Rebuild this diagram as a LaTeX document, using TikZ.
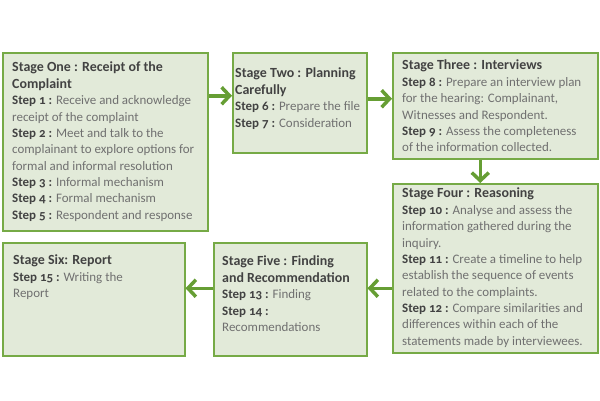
\documentclass[tikz,border=0pt]{standalone}
\usepackage{fontspec}
\setmainfont{Carlito}[Numbers=OldStyle]
\usepackage{tikz}
\usetikzlibrary{arrows.meta}

\definecolor{boxfill}{RGB}{226,234,217}
\definecolor{boxline}{RGB}{118,170,70}
\definecolor{arrowgreen}{RGB}{102,158,52}
\definecolor{headgray}{RGB}{66,66,66}
\definecolor{bodygray}{RGB}{112,112,112}

\tikzset{
  stage/.style={draw=boxline, fill=boxfill, line width=1.5bp, inner sep=0pt, anchor=north west},
  stagetext/.style={anchor=north west, inner sep=0pt, align=left, text=bodygray,
    font=\fontsize{13}{16.4}\selectfont},
  flow/.style={draw=arrowgreen, line width=3.5bp, -{Straight Barb[length=8bp,width=17bp]}}
}
\newcommand{\stagehead}[1]{{\fontsize{14}{16.4}\selectfont\bfseries\color{headgray}#1}}
\newcommand{\stepno}[1]{{\bfseries\color{headgray}Step #1 :} }

\begin{document}
\begin{tikzpicture}[x=1bp,y=-1bp]
  \useasboundingbox[fill=white] (0,0) rectangle (600,400);

  % the six stages
  \node[stage, minimum width=205bp, minimum height=178bp] (one)   at (2,52)    {};
  \node[stage, minimum width=134bp, minimum height=100bp] (two)   at (232,52)  {};
  \node[stage, minimum width=205bp, minimum height=106bp] (three) at (392,52)  {};
  \node[stage, minimum width=205bp, minimum height=169bp] (four)  at (392,183) {};
  \node[stage, minimum width=153bp, minimum height=113bp] (five)  at (213,242) {};
  \node[stage, minimum width=182bp, minimum height=113bp] (six)   at (2,242)   {};

  \node[stagetext] (onetext) at (12,62) {%
    \stagehead{Stage One : Receipt of the}\\
    \stagehead{Complaint}\\
    \stepno{1}Receive and acknowledge\\
    receipt of the complaint\\
    \stepno{2}Meet and talk to the\\
    complainant to explore options for\\
    formal and informal resolution\\
    \stepno{3}Informal mechanism\\
    \stepno{4}Formal mechanism\\
    \stepno{5}Respondent and response};

  \node[stagetext] (twotext) at (235,68) {%
    \stagehead{Stage Two : Planning}\\
    \stagehead{Carefully}\\
    \stepno{6}Prepare the file\\
    \stepno{7}Consideration};

  \node[stagetext] (threetext) at (402,60) {%
    \stagehead{Stage Three : Interviews}\\
    \stepno{8}Prepare an interview plan\\
    for the hearing: Complainant,\\
    Witnesses and Respondent.\\
    \stepno{9}Assess the completeness\\
    of the information collected.};

  \node[stagetext] (fourtext) at (402,188) {%
    \stagehead{Stage Four : Reasoning}\\
    \stepno{10}Analyse and assess the\\
    information gathered during the\\
    inquiry.\\
    \stepno{11}Create a timeline to help\\
    establish the sequence of events\\
    related to the complaints.\\
    \stepno{12}Compare similarities and\\
    differences within each of the\\
    statements made by interviewees.};

  \node[stagetext] (fivetext) at (222,256) {%
    \stagehead{Stage Five : Finding}\\
    \stagehead{and Recommendation}\\
    \stepno{13}Finding\\
    \stepno{14}\\
    Recommendations};

  \node[stagetext] (sixtext) at (13,255) {%
    \stagehead{Stage Six: Report}\\
    \stepno{15}Writing the\\
    Report};

  % arrows between the stages
  \coordinate (intwo)   at ([yshift=7bp]two.west);
  \coordinate (inthree) at ([yshift=7bp]three.west);
  \coordinate (infour)  at ([xshift=-15bp]four.north);
  \coordinate (infive)  at ([yshift=11bp]five.east);
  \coordinate (insix)   at ([yshift=11bp]six.east);

  \draw[flow] (one.east |- intwo) -- (intwo);
  \draw[flow] (two.east |- inthree) -- (inthree);
  \draw[flow] (three.south -| infour) -- (infour);
  \draw[flow] (four.west |- infive) -- (infive);
  \draw[flow] (five.west |- insix) -- (insix);
\end{tikzpicture}
\end{document}
